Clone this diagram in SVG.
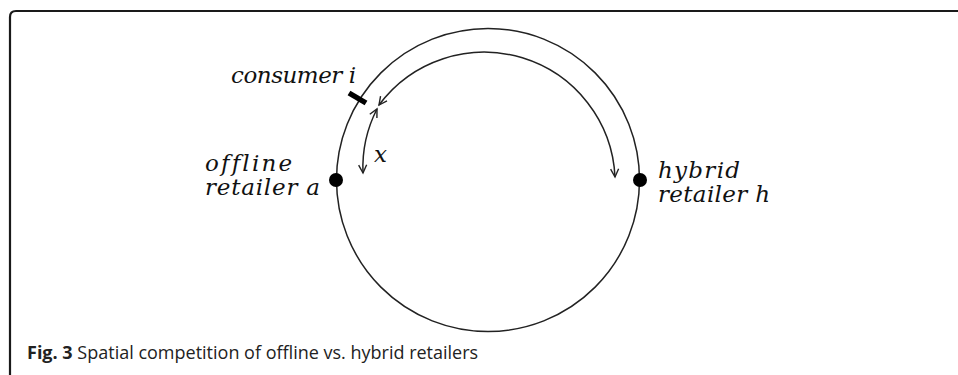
<svg xmlns="http://www.w3.org/2000/svg" width="958" height="375" viewBox="0 0 958 375">
<style>
.ln{fill:none;stroke:#222;stroke-width:1.5}
.lbl{font-family:"DejaVu Serif","Liberation Serif",serif;font-style:italic;font-size:23px;fill:#111;font-variant-ligatures:none}
.cap{font-family:"Open Sans","Noto Sans",sans-serif;font-size:18px;fill:#222}
</style>
<defs>
<marker id="arr" markerUnits="userSpaceOnUse" markerWidth="12" markerHeight="12" refX="9" refY="5" orient="auto-start-reverse" viewBox="0 0 12 10">
<path d="M1,1 L9,5 L1,9" fill="none" stroke="#222" stroke-width="1.4"/>
</marker>
</defs>
<rect width="958" height="375" fill="#fff"/>
<path id="frame" d="M10,375 L10,17 Q10,11 16,11 L958,11" fill="none" stroke="#1a1a1a" stroke-width="2.2"/>
<g id="ring"><circle cx="488" cy="180" r="151.5" class="ln"/></g>
<g id="connectors">
<path class="ln" d="M379,105 A131 131 0 0 1 615,177" marker-start="url(#arr)" marker-end="url(#arr)"/>
<path class="ln" d="M377,109 A128 128 0 0 0 363,173" marker-start="url(#arr)" marker-end="url(#arr)"/>
</g>
<g id="consumer">
<line x1="349" y1="93" x2="366" y2="103" stroke="#000" stroke-width="5.5"/>
<text class="lbl" x="231" y="83" textLength="125" lengthAdjust="spacing">consumer i</text>
</g>
<g id="offline">
<circle cx="336" cy="180" r="7" fill="#000"/>
<text class="lbl" x="205" y="171" textLength="87" lengthAdjust="spacing">offline</text>
<text class="lbl" x="205" y="195" textLength="115" lengthAdjust="spacing">retailer a</text>
</g>
<g id="hybrid">
<circle cx="640" cy="180" r="7" fill="#000"/>
<text class="lbl" x="658" y="178" textLength="82" lengthAdjust="spacing">hybrid</text>
<text class="lbl" x="658" y="202" textLength="112" lengthAdjust="spacing">retailer h</text>
</g>
<g id="xlabel"><text class="lbl" x="374" y="162" font-size="24">x</text></g>
<text class="cap" x="27" y="359"><tspan font-weight="bold">Fig. 3</tspan> Spatial competition of offline vs. hybrid retailers</text>
</svg>
